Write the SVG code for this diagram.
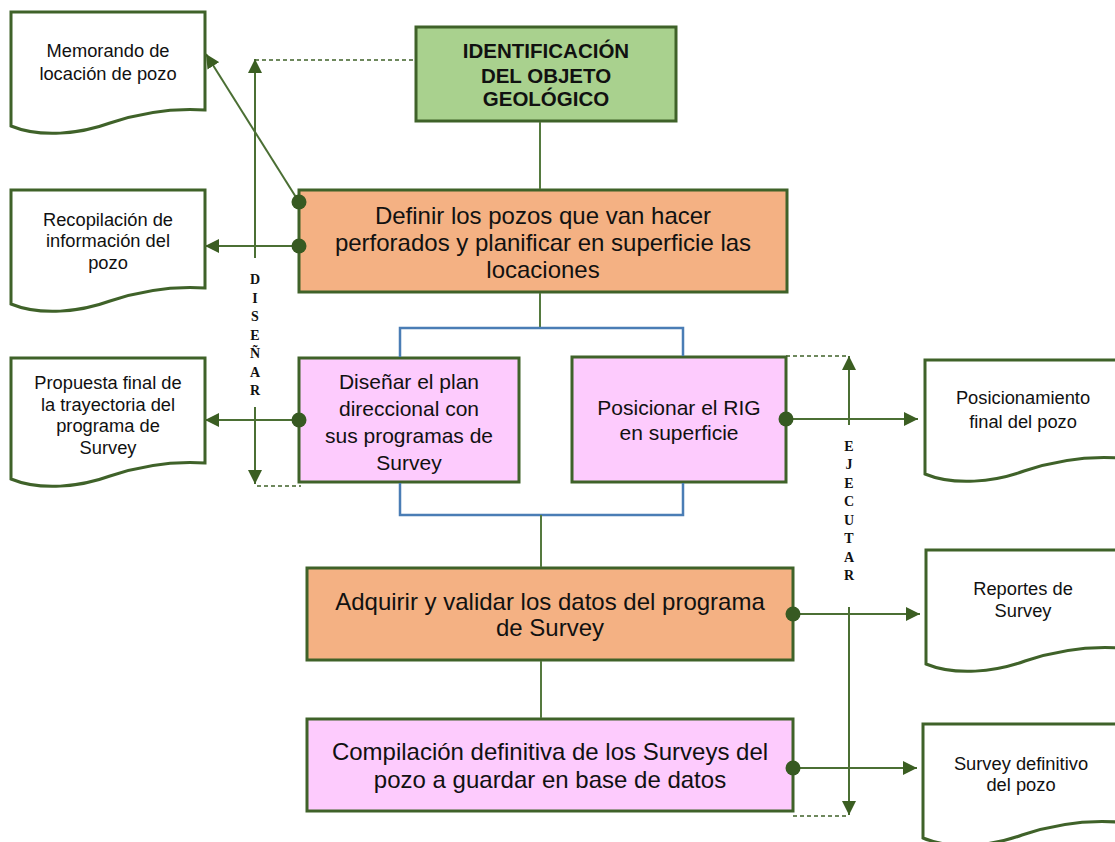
<svg xmlns="http://www.w3.org/2000/svg" width="1115" height="842" viewBox="0 0 1115 842">
<style>
.box{stroke:#3f6229;stroke-width:3}
.g{fill:#a9d18e}.o{fill:#f4b183}.p{fill:#fdcbfd}
.doc{fill:#fff;stroke:#3f6229;stroke-width:3}
.t{font-family:"Liberation Sans",Arial,sans-serif;fill:#111;text-anchor:middle}
.tb{font-weight:bold;font-size:20.5px}
.tl{font-size:24px}
.tm{font-size:21px}
.ts{font-size:18.3px}
.v{font-family:"Liberation Serif","Times New Roman",serif;font-weight:bold;font-size:14px;fill:#111;text-anchor:middle}
.ln{fill:none;stroke:#557a3f;stroke-width:2}
.bl{fill:none;stroke:#4a7db5;stroke-width:2.5}
.ar{fill:none;stroke:#4b6f34;stroke-width:2;marker-end:url(#ah)}
.ds{fill:none;stroke:#3f6229;stroke-width:1.5;stroke-dasharray:4 3}
.dot{fill:#375a22}
</style>
<defs>
<marker id="ah" markerUnits="userSpaceOnUse" viewBox="0 0 14 14" refX="14" refY="7" markerWidth="14" markerHeight="14" orient="auto">
<path d="M0,0 L14,7 L0,14 z" fill="#3b5e22"/>
</marker>
</defs>

<g id="disenar-label">
<text class="v" x="255" y="284">D</text>
<text class="v" x="255" y="303">I</text>
<text class="v" x="255" y="321">S</text>
<text class="v" x="255" y="340">E</text>
<text class="v" x="255" y="358">Ñ</text>
<text class="v" x="255" y="377">A</text>
<text class="v" x="255" y="395">R</text>
</g>
<g id="ejecutar-label">
<text class="v" x="849" y="451">E</text>
<text class="v" x="849" y="469">J</text>
<text class="v" x="849" y="488">E</text>
<text class="v" x="849" y="506">C</text>
<text class="v" x="849" y="525">U</text>
<text class="v" x="849" y="543">T</text>
<text class="v" x="849" y="562">A</text>
<text class="v" x="849" y="580">R</text>
</g>

<g id="n-identificacion">
<rect class="box g" x="416" y="27" width="260" height="94"/>
<text class="t tb" x="546" y="58">IDENTIFICACIÓN</text>
<text class="t tb" x="546" y="83">DEL OBJETO</text>
<text class="t tb" x="546" y="106">GEOLÓGICO</text>
</g>

<g id="n-definir">
<rect class="box o" x="299" y="190" width="488" height="102"/>
<text class="t tl" x="543" y="224">Definir los pozos que van hacer</text>
<text class="t tl" x="543" y="251">perforados y planificar en superficie las</text>
<text class="t tl" x="543" y="278">locaciones</text>
</g>

<g id="n-disenar">
<rect class="box p" x="299" y="358" width="220" height="124"/>
<text class="t tm" x="409" y="389">Diseñar el plan</text>
<text class="t tm" x="409" y="416">direccional con</text>
<text class="t tm" x="409" y="443">sus programas de</text>
<text class="t tm" x="409" y="470">Survey</text>
</g>

<g id="n-posicionar">
<rect class="box p" x="572" y="357" width="214" height="125"/>
<text class="t tm" x="679" y="415">Posicionar el RIG</text>
<text class="t tm" x="679" y="440">en superficie</text>
</g>

<g id="n-adquirir">
<rect class="box o" x="307" y="568" width="486" height="92"/>
<text class="t tl" x="550" y="610">Adquirir y validar los datos del programa</text>
<text class="t tl" x="550" y="636">de Survey</text>
</g>

<g id="n-compilacion">
<rect class="box p" x="307" y="719" width="486" height="92"/>
<text class="t tl" x="550" y="760">Compilación definitiva de los Surveys del</text>
<text class="t tl" x="550" y="788">pozo a guardar en base de datos</text>
</g>

<g id="d-memorando">
<path class="doc" d="M11,12 H205 V110 C175,108 140,113 110,123 C80,134 40,138 11,126 Z"/>
<text class="t ts" x="108" y="57">Memorando de</text>
<text class="t ts" x="108" y="80">locación de pozo</text>
</g>

<g id="d-recopilacion">
<path class="doc" d="M11,190 H205 V288 C175,286 140,291 110,301 C80,312 40,316 11,304 Z"/>
<text class="t ts" x="108" y="226">Recopilación de</text>
<text class="t ts" x="108" y="247">información del</text>
<text class="t ts" x="108" y="269">pozo</text>
</g>

<g id="d-propuesta">
<path class="doc" d="M11,358 H205 V463 C175,461 140,466 110,476 C80,487 40,491 11,479 Z"/>
<text class="t ts" x="108" y="389">Propuesta final de</text>
<text class="t ts" x="108" y="411">la trayectoria del</text>
<text class="t ts" x="108" y="432">programa de</text>
<text class="t ts" x="108" y="454">Survey</text>
</g>

<g id="d-posicionamiento">
<path class="doc" d="M925,360 H1119 V458 C1089,456 1054,461 1024,471 C994,482 954,486 925,474 Z"/>
<text class="t ts" x="1023" y="404">Posicionamiento</text>
<text class="t ts" x="1023" y="428">final del pozo</text>
</g>

<g id="d-reportes">
<path class="doc" d="M926,550 H1120 V648 C1090,646 1055,651 1025,661 C995,672 955,676 926,664 Z"/>
<text class="t ts" x="1023" y="595">Reportes de</text>
<text class="t ts" x="1023" y="617">Survey</text>
</g>

<g id="d-survey-definitivo">
<path class="doc" d="M923,724 H1117 V822 C1087,820 1052,825 1022,835 C992,846 952,850 923,838 Z"/>
<text class="t ts" x="1021" y="770">Survey definitivo</text>
<text class="t ts" x="1021" y="791">del pozo</text>
</g>

<g id="connectors">
<line class="ln" x1="540" y1="122" x2="540" y2="189"/>
<line class="ln" x1="540" y1="293" x2="540" y2="328"/>
<polyline class="bl" points="400,357 400,328 683,328 683,356"/>
<polyline class="bl" points="400,483 400,515 683,515 683,483"/>
<line class="ln" x1="541" y1="515" x2="541" y2="567"/>
<line class="ln" x1="541" y1="661" x2="541" y2="718"/>
<line class="ar" x1="299" y1="202" x2="206" y2="54"/>
<line class="ar" x1="299" y1="246" x2="205" y2="246"/>
<line class="ar" x1="299" y1="420" x2="205" y2="420"/>
<line class="ar" x1="786" y1="419" x2="918" y2="419"/>
<line class="ar" x1="793" y1="614" x2="920" y2="614"/>
<line class="ar" x1="793" y1="768" x2="917" y2="768"/>
<line class="ar" x1="255" y1="258" x2="255" y2="59"/>
<line class="ds" x1="255" y1="60" x2="416" y2="60"/>
<line class="ar" x1="255" y1="407" x2="255" y2="484"/>
<line class="ds" x1="257" y1="486" x2="301" y2="486"/>
<line class="ar" x1="849" y1="425" x2="849" y2="356"/>
<line class="ds" x1="786" y1="356" x2="849" y2="356"/>
<line class="ar" x1="849" y1="607" x2="849" y2="815"/>
<line class="ds" x1="793" y1="816" x2="849" y2="816"/>
<circle class="dot" cx="299" cy="202" r="7.5"/>
<circle class="dot" cx="299" cy="246" r="7.5"/>
<circle class="dot" cx="299" cy="420" r="7.5"/>
<circle class="dot" cx="786" cy="419" r="7.5"/>
<circle class="dot" cx="793" cy="614" r="7.5"/>
<circle class="dot" cx="793" cy="768" r="7.5"/>
</g>
</svg>
